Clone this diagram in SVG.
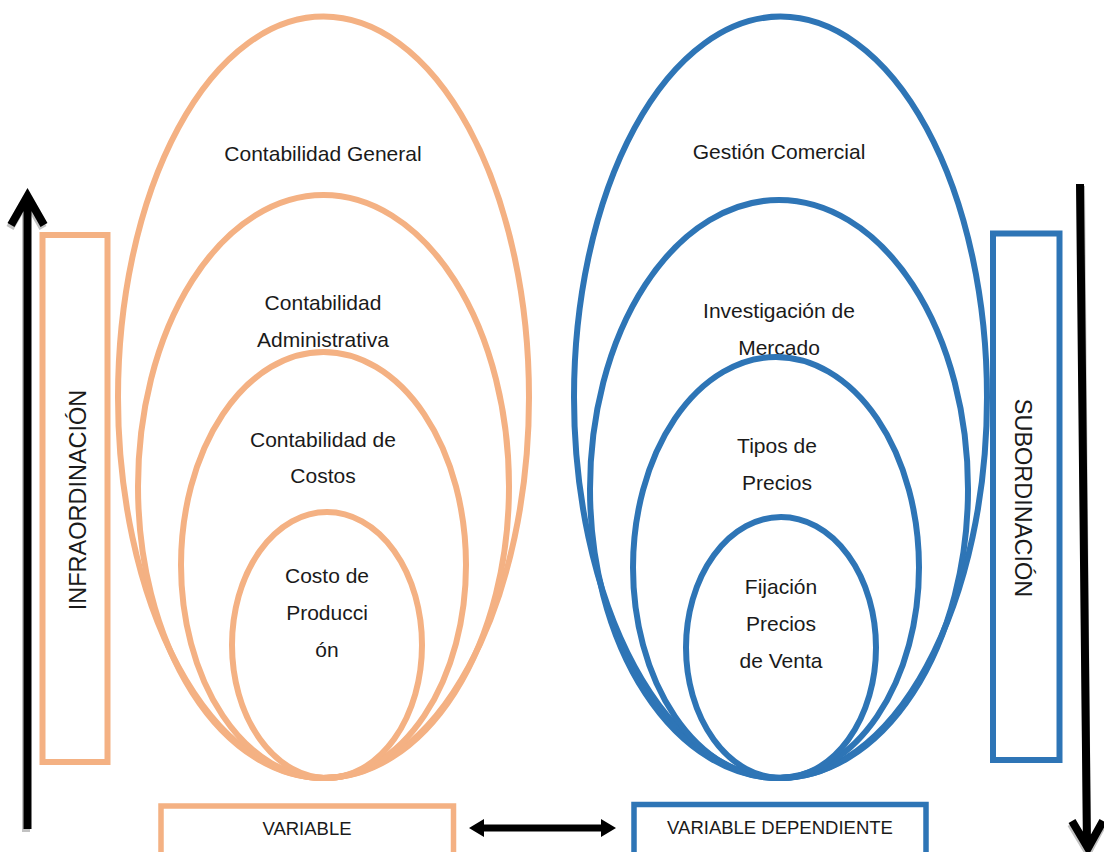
<svg xmlns="http://www.w3.org/2000/svg" width="1104" height="852" viewBox="0 0 1104 852">
  <style>
    .lbl { font-family: "Liberation Sans", Arial, sans-serif; font-size: 21px; fill: #1a1a1a; text-anchor: middle; }
    .vlbl { font-family: "Liberation Sans", Arial, sans-serif; font-size: 23.5px; fill: #1a1a1a; text-anchor: middle; }
    .box { font-family: "Liberation Sans", Arial, sans-serif; font-size: 18.5px; fill: #1a1a1a; text-anchor: middle; }
    .org { fill: none; stroke: #F4B183; stroke-width: 6; }
    .blu { fill: none; stroke: #2E75B6; stroke-width: 6; }
    .arr { fill: none; stroke: #000; stroke-width: 8; }
    .shd { fill: none; stroke: #9a9a9a; stroke-width: 8; }
  </style>

  <rect width="1104" height="852" fill="#fff"/>

  <!-- Left nest: accounting levels -->
  <g id="contabilidad-general">
    <ellipse class="org" cx="323.5" cy="397.3" rx="205.5" ry="380.7"/>
    <text class="lbl" x="323" y="161">Contabilidad General</text>
  </g>
  <g id="contabilidad-administrativa">
    <ellipse class="org" cx="323.5" cy="486.5" rx="185.5" ry="291.5"/>
    <text class="lbl" x="323" y="310">Contabilidad</text>
    <text class="lbl" x="323" y="347">Administrativa</text>
  </g>
  <g id="contabilidad-costos">
    <ellipse class="org" cx="323.5" cy="565" rx="142.5" ry="213"/>
    <text class="lbl" x="323" y="447">Contabilidad de</text>
    <text class="lbl" x="323" y="483">Costos</text>
  </g>
  <g id="costo-produccion">
    <ellipse class="org" cx="327" cy="645" rx="95" ry="133"/>
    <text class="lbl" x="327" y="583">Costo de</text>
    <text class="lbl" x="327" y="620">Producci</text>
    <text class="lbl" x="327" y="657">ón</text>
  </g>

  <!-- Right nest: commercial levels -->
  <g id="gestion-comercial">
    <ellipse class="blu" cx="780.5" cy="397.3" rx="206.5" ry="380.7"/>
    <text class="lbl" x="779" y="159">Gestión Comercial</text>
  </g>
  <g id="investigacion-mercado">
    <ellipse class="blu" cx="779" cy="489" rx="189" ry="289"/>
    <text class="lbl" x="779" y="318">Investigación de</text>
    <text class="lbl" x="779" y="355">Mercado</text>
  </g>
  <g id="tipos-precios">
    <ellipse class="blu" cx="776" cy="567.5" rx="143" ry="210.5"/>
    <text class="lbl" x="777" y="453">Tipos de</text>
    <text class="lbl" x="777" y="490">Precios</text>
  </g>
  <g id="fijacion-precios">
    <ellipse class="blu" cx="781" cy="647.5" rx="95" ry="130.5"/>
    <text class="lbl" x="781" y="594">Fijación</text>
    <text class="lbl" x="781" y="631">Precios</text>
    <text class="lbl" x="781" y="668">de Venta</text>
  </g>

  <!-- Side labels -->
  <g id="infraordinacion">
    <rect x="42.5" y="235" width="65" height="527" fill="none" stroke="#F4B183" stroke-width="6"/>
    <text class="vlbl" transform="translate(85.5,500) rotate(-90)">INFRAORDINACIÓN</text>
  </g>
  <g id="subordinacion">
    <rect x="993" y="233.5" width="66.5" height="526.5" fill="none" stroke="#2E75B6" stroke-width="6"/>
    <text class="vlbl" transform="translate(1015,498) rotate(90)">SUBORDINACIÓN</text>
  </g>

  <!-- Bottom variable boxes -->
  <g id="variable">
    <rect x="161" y="806" width="292.5" height="60" fill="none" stroke="#F4B183" stroke-width="5.5"/>
    <text class="box" x="307" y="835">VARIABLE</text>
  </g>
  <g id="variable-dependiente">
    <rect x="634" y="804.5" width="292" height="60" fill="none" stroke="#2E75B6" stroke-width="5.5"/>
    <text class="box" x="780" y="834">VARIABLE DEPENDIENTE</text>
  </g>

  <!-- Connectors -->
  <g id="connectors">
    <!-- upward arrow, left -->
    <path class="shd" d="M26,200 L26,832 M10,228 L26.5,199 L43,228" opacity="0.6"/>
    <path class="arr" d="M27.5,198 L27.5,829 M11,225 L27.5,196 L44,225"/>
    <!-- downward arrow, right -->
    <path class="shd" d="M1081,186 L1087,850 M1071,824 L1088,852 L1103,824" opacity="0.6"/>
    <path class="arr" d="M1080,184 L1087,846 M1072,821 L1088,848 L1103,821"/>
    <!-- two-way link between the variables -->
    <polygon fill="#000" points="469,828 484,819 484,824.5 601,824.5 601,819 616,828 601,837 601,831.5 484,831.5 484,837"/>
  </g>
</svg>
